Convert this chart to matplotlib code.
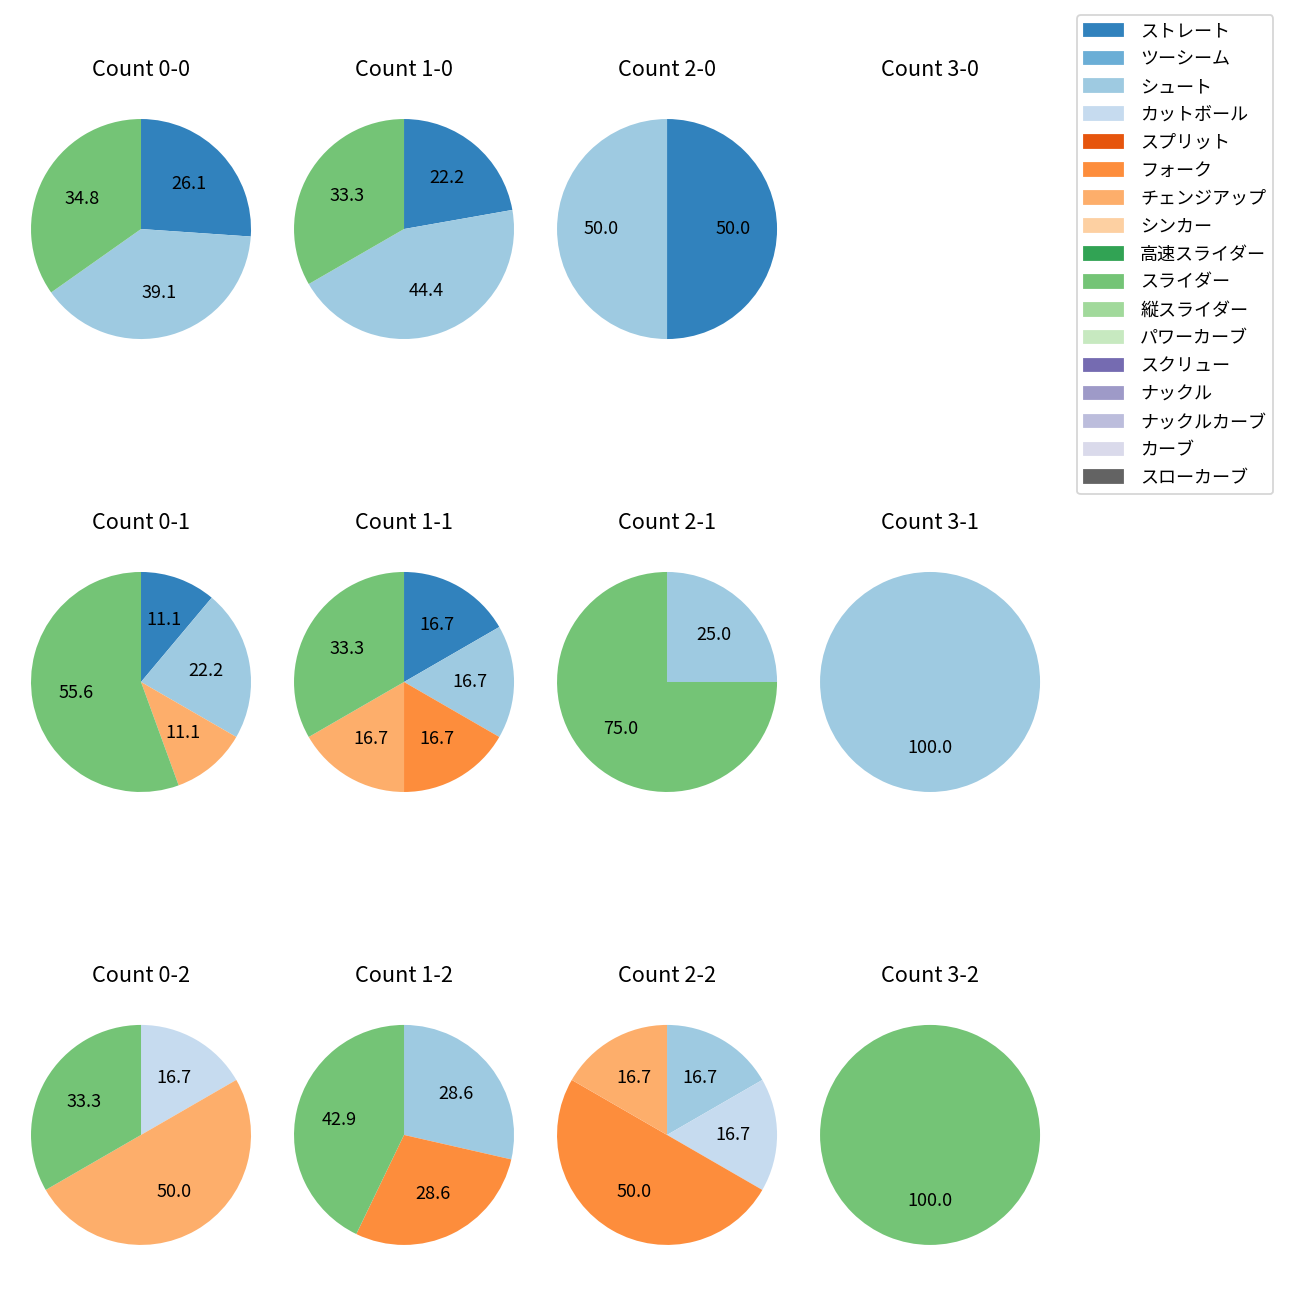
import matplotlib
matplotlib.use("Agg")
import matplotlib.pyplot as plt
from matplotlib.patches import Patch

plt.rcParams['font.family'] = ['Noto Sans CJK JP', 'DejaVu Sans']

# pitch types in legend order (tab20c colours in the same order)
pitch_types = ['ストレート', 'ツーシーム', 'シュート', 'カットボール', 'スプリット',
               'フォーク', 'チェンジアップ', 'シンカー', '高速スライダー', 'スライダー',
               '縦スライダー', 'パワーカーブ', 'スクリュー', 'ナックル', 'ナックルカーブ',
               'カーブ', 'スローカーブ']

# counts in plotting order (row = strikes, col = balls)
count_labels = ['0-0', '1-0', '2-0', '3-0',
                '0-1', '1-1', '2-1', '3-1',
                '0-2', '1-2', '2-2', '3-2']

# pitches thrown in each count (pitch type names / number of pitches)
pitches_00 = ['ストレート', 'シュート', 'スライダー']
values_00 = [6, 9, 8]
pitches_10 = ['ストレート', 'シュート', 'スライダー']
values_10 = [2, 4, 3]
pitches_20 = ['ストレート', 'シュート']
values_20 = [1, 1]
pitches_30 = []
values_30 = []
pitches_01 = ['ストレート', 'シュート', 'チェンジアップ', 'スライダー']
values_01 = [1, 2, 1, 5]
pitches_11 = ['ストレート', 'シュート', 'フォーク', 'チェンジアップ', 'スライダー']
values_11 = [1, 1, 1, 1, 2]
pitches_21 = ['シュート', 'スライダー']
values_21 = [1, 3]
pitches_31 = ['シュート']
values_31 = [1]
pitches_02 = ['カットボール', 'チェンジアップ', 'スライダー']
values_02 = [1, 3, 2]
pitches_12 = ['シュート', 'フォーク', 'スライダー']
values_12 = [2, 2, 3]
pitches_22 = ['シュート', 'カットボール', 'フォーク', 'チェンジアップ']
values_22 = [1, 1, 3, 1]
pitches_32 = ['スライダー']
values_32 = [1]

all_pitches = [pitches_00, pitches_10, pitches_20, pitches_30,
               pitches_01, pitches_11, pitches_21, pitches_31,
               pitches_02, pitches_12, pitches_22, pitches_32]
all_values = [values_00, values_10, values_20, values_30,
              values_01, values_11, values_21, values_31,
              values_02, values_12, values_22, values_32]

cmap = plt.get_cmap('tab20c')
colors = {p: cmap(i) for i, p in enumerate(pitch_types)}

fig, axes = plt.subplots(3, 4, figsize=(10, 10), dpi=130)
fig.subplots_adjust(left=0.0027, right=0.8212, top=0.9296, bottom=0.0212,
                    wspace=-0.0436, hspace=0.647)

for ax, label, pitches, values in zip(axes.flat, count_labels, all_pitches, all_values):
    if len(values) > 0:
        ax.pie(values, colors=[colors[p] for p in pitches], autopct='%.1f',
               startangle=90, counterclock=False)
    else:
        ax.axis('off')
    ax.set_title('Count ' + label, fontsize=12, pad=8.5)

handles = [Patch(color=colors[p]) for p in pitch_types]
fig.legend(handles, pitch_types, loc='upper left', fontsize=10,
           labelspacing=0.55, handlelength=2.15, handletextpad=0.95,
           bbox_to_anchor=(1077 / 1300, 1 - 15 / 1300), borderaxespad=0)

fig.savefig('out.png')
